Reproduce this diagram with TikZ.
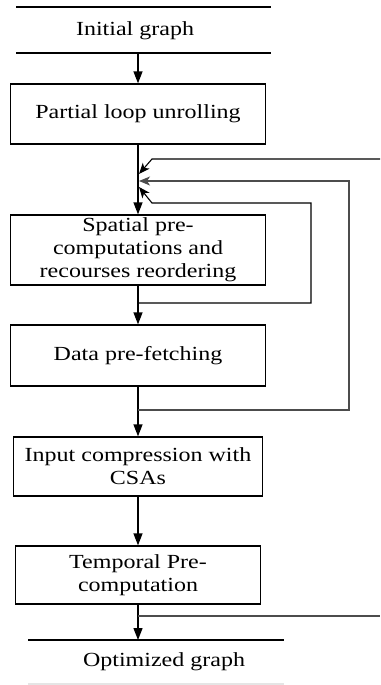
\documentclass[tikz,border=0pt]{standalone}
\usepackage{fontspec}
\setmainfont{Liberation Serif}[FakeStretch=1.2]
\usetikzlibrary{arrows.meta}

\begin{document}
\begin{tikzpicture}[
    x=1pt, y=-1pt,
    every node/.style={font=\fontsize{20}{23}\selectfont},
    stage/.style={draw, line width=1.3pt, align=center, minimum width=255pt, minimum height=60pt, inner sep=0pt},
    flow/.style={-{Triangle[length=12pt, width=9pt]}, line width=1.3pt},
    back/.style={-{Stealth[length=11pt, width=9pt, inset=3pt]}, line width=1.1pt},
    rule/.style={line width=1.3pt}
]
    \useasboundingbox (0,0) rectangle (380,685);

    % end labels
    \node (init) at (135,31) {Initial graph};
    \node (final) at (164,662) {Optimized graph};
    \draw[rule] (16,7) -- (271,7);
    \draw[rule] (16,53) -- (271,53);
    \draw[rule] (28,640) -- (284,640);
    \draw[rule, gray!20] (28,684) -- (284,684);

    % stages
    \node[stage] (unroll) at (138,114) {Partial loop unrolling};
    \node[stage, minimum height=70pt] (spatial) at (138,250) {Spatial pre-\\computations and\\recourses reordering};
    \node[stage, minimum height=61pt] (fetch) at (138,355.5) {Data pre-fetching};
    \node[stage, minimum width=249pt, minimum height=59pt] (compress) at (138,466.5) {Input compression with\\CSAs};
    \node[stage, minimum width=245pt, minimum height=58pt] (temporal) at (138,575) {Temporal Pre-\\computation};

    \coordinate (initb) at (138,53);
    \coordinate (finalt) at (138,640);
    \coordinate (in1) at (139,174);
    \coordinate (in2) at (139,181);
    \coordinate (in3) at (139,187);
    \coordinate (j3) at (138,303);
    \coordinate (j2) at (138,410);
    \coordinate (j4) at (138,616);
    \coordinate (out1) at (380,159);
    \coordinate (out4) at (380,616);

    % main flow
    \draw[flow] (initb) -- (unroll.north);
    \draw[flow] (unroll.south) -- (spatial.north);
    \draw[flow] (spatial.south) -- (fetch.north);
    \draw[flow] (fetch.south) -- (compress.north);
    \draw[flow] (compress.south) -- (temporal.north);
    \draw[flow] (temporal.south) -- (finalt);

    % feedback
    \draw[back] (out1) -- (152,159) -- (in1);
    \draw[back, gray!60!black] (j2) -- (349,410) -- (349,181) -- (in2);
    \draw[back] (j3) -- (311,303) -- (311,203) -- (152,203) -- (in3);
    \draw[gray!60!black, line width=1.1pt] (j4) -- (out4);
\end{tikzpicture}
\end{document}
